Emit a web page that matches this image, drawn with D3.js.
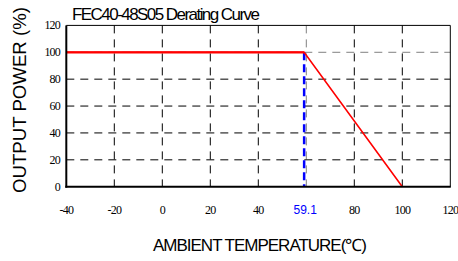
<!DOCTYPE html>
<html>
<head>
<meta charset="utf-8">
<script src="https://cdn.jsdelivr.net/npm/d3@7"></script>
<style>
    body { margin: 0; background: #fff; }
    svg { display: block; }
    .axis-title { font-family: "Liberation Sans", Arial, sans-serif; fill: #000; }
</style>
</head>
<body>
<div id="chartdiv"></div>
<script>
    // data
    const title = "FEC40-48S05 Derating Curve";
    const temps = [-40, 59.1, 100];
    const power = [100, 100, 0];
    const xTicks = [-40, -20, 0, 20, 40, 60, 80, 100, 120];
    const xTickLabels = [-40, -20, 0, 20, 40, 80, 100, 120];
    const yTicks = [0, 20, 40, 60, 80, 100, 120];
    const markTemp = 59.1;

    const W = 458, H = 261;
    const svg = d3.select("#chartdiv").append("svg").attr("width", W).attr("height", H);

    const x = d3.scaleLinear().domain([-40, 120]).range([66.3, 450.3]);
    const y = d3.scaleLinear().domain([0, 120]).range([186.7, 25.4]);

    // grid
    const grid = svg.append("g");
    grid.selectAll(".vg").data(xTicks.filter(d => d > -40 && d < 120)).enter()
        .append("line")
        .attr("x1", d => x(d)).attr("x2", d => x(d))
        .attr("y1", y(120)).attr("y2", y(0))
        .attr("stroke", d => d === 60 ? "#808080" : "#000")
        .attr("stroke-width", 1)
        .attr("stroke-dasharray", "8,6");
    grid.selectAll(".hg").data(yTicks.filter(d => d > 0 && d < 120)).enter()
        .append("line")
        .attr("x1", x(-40)).attr("x2", x(120))
        .attr("y1", d => y(d)).attr("y2", d => y(d))
        .attr("stroke", d => d === 100 ? "#808080" : "#000")
        .attr("stroke-width", 1)
        .attr("stroke-dasharray", "8,6");

    // frame
    svg.append("line").attr("x1", x(-40)).attr("x2", x(120)).attr("y1", y(120)).attr("y2", y(120))
        .attr("stroke", "#000").attr("stroke-width", 1);
    svg.append("line").attr("x1", x(120)).attr("x2", x(120)).attr("y1", y(120)).attr("y2", y(0))
        .attr("stroke", "#000").attr("stroke-width", 1);

    // blue marker line
    svg.append("line")
        .attr("x1", x(markTemp)).attr("x2", x(markTemp))
        .attr("y1", y(100)).attr("y2", y(0))
        .attr("stroke", "#0000ff").attr("stroke-width", 2.5)
        .attr("stroke-dasharray", "8,4");

    // derating curve
    const line = d3.line().x((d, i) => x(temps[i])).y((d, i) => y(power[i]));
    svg.append("path").datum(temps)
        .attr("d", line)
        .attr("fill", "none")
        .attr("stroke", "#ff0000")
        .attr("stroke-width", 1.6);
    svg.append("line")
        .attr("x1", x(temps[0])).attr("x2", x(temps[1]))
        .attr("y1", y(power[0])).attr("y2", y(power[1]))
        .attr("stroke", "#ff0000").attr("stroke-width", 2.2);

    // axes lines
    svg.append("line").attr("x1", x(-40)).attr("x2", x(-40)).attr("y1", y(120)).attr("y2", y(0) + 1)
        .attr("stroke", "#000").attr("stroke-width", 2);
    svg.append("line").attr("x1", x(-40) - 1).attr("x2", x(120) + 0.5).attr("y1", y(0)).attr("y2", y(0))
        .attr("stroke", "#000").attr("stroke-width", 2);

    // tick labels (serif, condensed)
    svg.selectAll(".yl").data(yTicks).enter().append("text")
        .attr("font-family", "Liberation Serif, Times New Roman, serif")
        .attr("font-size", 12).attr("letter-spacing", -0.8)
        .attr("x", 60).attr("y", d => y(d) + 4)
        .attr("text-anchor", "end")
        .text(d => d);
    svg.selectAll(".xl").data(xTickLabels).enter().append("text")
        .attr("font-family", "Liberation Serif, Times New Roman, serif")
        .attr("font-size", 12).attr("letter-spacing", -0.8)
        .attr("x", d => x(d)).attr("y", 214)
        .attr("text-anchor", "middle")
        .text(d => d);
    svg.append("text")
        .attr("x", x(markTemp) + 1).attr("y", 214)
        .attr("text-anchor", "middle")
        .attr("font-family", "Liberation Sans, Arial, sans-serif")
        .attr("font-size", 12).attr("fill", "#0000ff")
        .text(markTemp);

    // titles
    svg.append("text").attr("class", "axis-title")
        .attr("x", 72).attr("y", 20)
        .attr("font-size", 17)
        .attr("textLength", 188).attr("lengthAdjust", "spacing")
        .text(title);
    svg.append("text").attr("class", "axis-title")
        .attr("x", 153).attr("y", 251)
        .attr("font-size", 17)
        .attr("textLength", 214).attr("lengthAdjust", "spacing")
        .text("AMBIENT TEMPERATURE(℃)");
    svg.append("text").attr("class", "axis-title")
        .attr("transform", "translate(26,100) rotate(-90)")
        .attr("text-anchor", "middle")
        .attr("font-size", 18.5)
        .attr("textLength", 186).attr("lengthAdjust", "spacingAndGlyphs")
        .text("OUTPUT POWER (%)");
</script>
</body>
</html>
